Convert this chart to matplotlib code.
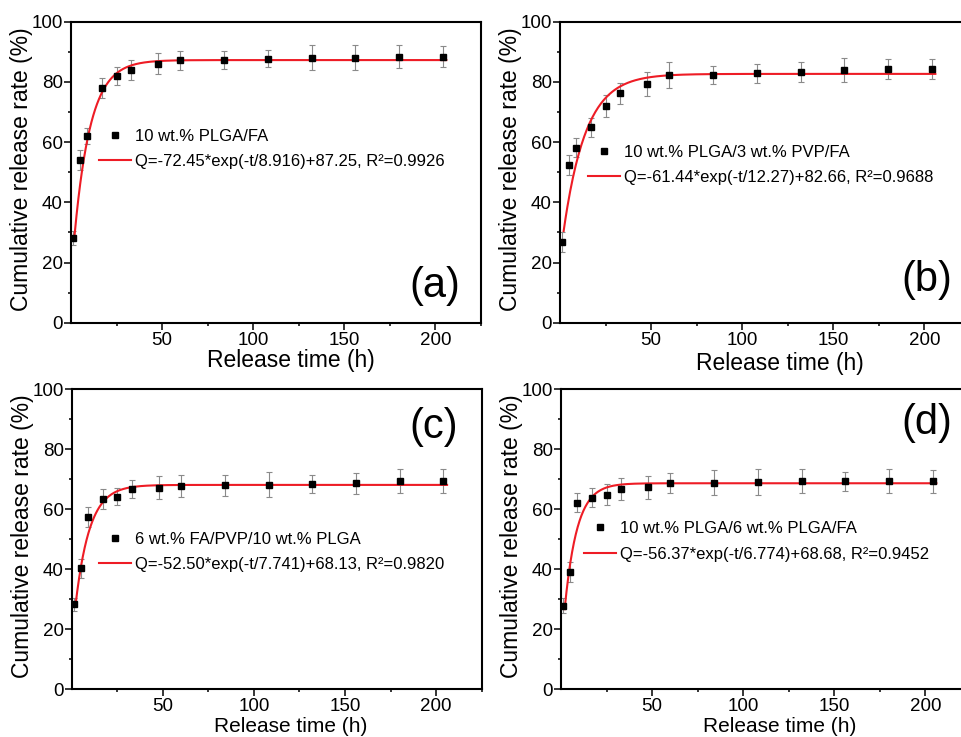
import numpy as np
import matplotlib
matplotlib.use("Agg")
import matplotlib.pyplot as plt
from matplotlib.lines import Line2D
from matplotlib.ticker import MultipleLocator, FixedLocator

plt.rcParams['font.family'] = ['Liberation Sans', 'DejaVu Sans']

# ---- data ----
time_h = [1, 5, 9, 17, 25, 33, 48, 60, 84, 108, 132, 156, 180, 204]

release_a = [28.0, 54.0, 62.0, 78.1, 82.0, 84.0, 86.0, 87.2, 87.3, 87.7, 88.0, 88.0, 88.3, 88.3]
err_a     = [2.3, 3.4, 2.7, 3.3, 3.0, 3.4, 3.5, 3.2, 3.1, 2.9, 4.1, 4.1, 3.8, 3.5]

release_b = [26.8, 52.4, 58.2, 64.9, 72.0, 76.2, 79.3, 82.3, 82.3, 82.9, 83.4, 83.9, 84.2, 84.4]
err_b     = [3.3, 3.4, 3.0, 3.2, 3.7, 3.4, 4.0, 4.2, 3.0, 3.2, 3.3, 3.9, 3.3, 3.3]

release_c = [28.3, 40.3, 57.5, 63.4, 64.2, 66.8, 67.2, 67.8, 68.0, 68.2, 68.4, 68.7, 69.3, 69.4]
err_c     = [2.2, 3.2, 3.3, 3.3, 2.8, 3.0, 3.8, 3.7, 3.5, 4.1, 3.0, 3.5, 4.0, 3.9]

release_d = [27.9, 39.0, 62.2, 63.9, 64.9, 66.8, 67.3, 68.8, 68.9, 69.1, 69.3, 69.3, 69.3, 69.3]
err_d     = [2.5, 3.3, 3.2, 3.2, 3.4, 3.7, 3.7, 3.2, 4.2, 4.2, 4.0, 3.2, 4.0, 3.8]

# fit parameters: Q = A*exp(-t/tau) + Q0
fit_A   = [-72.45, -61.44, -52.50, -56.37]
fit_tau = [8.916, 12.27, 7.741, 6.774]
fit_Q0  = [87.25, 82.66, 68.13, 68.68]
fit_txt = ["Q=-72.45*exp(-t/8.916)+87.25, R\u00b2=0.9926",
           "Q=-61.44*exp(-t/12.27)+82.66, R\u00b2=0.9688",
           "Q=-52.50*exp(-t/7.741)+68.13, R\u00b2=0.9820",
           "Q=-56.37*exp(-t/6.774)+68.68, R\u00b2=0.9452"]

sample_names = ["10 wt.% PLGA/FA",
                "10 wt.% PLGA/3 wt.% PVP/FA",
                "6 wt.% FA/PVP/10 wt.% PLGA",
                "10 wt.% PLGA/6 wt.% PLGA/FA"]
panel_tags = ["(a)", "(b)", "(c)", "(d)"]

releases = [release_a, release_b, release_c, release_d]
errors = [err_a, err_b, err_c, err_d]

# ---- layout ----
W, H = 961, 737
fig = plt.figure(figsize=(W / 100, H / 100), dpi=100)

ax_w = 410 / W
positions = [
    (71 / W, (H - 322.7) / H, ax_w, 301 / H),
    (560 / W, (H - 322.7) / H, ax_w, 301 / H),
    (71.7 / W, (H - 689.3) / H, ax_w, 300 / H),
    (561 / W, (H - 689.3) / H, ax_w, 300 / H),
]
legend_anchor = [(0.069, 0.644), (0.069, 0.591), (0.067, 0.526), (0.056, 0.560)]
tag_pos = [(0.888, 0.122), (0.894, 0.142), (0.882, 0.875), (0.892, 0.887)]
xlabel_pos = [(0.536, -0.087), (0.537, -0.096), (0.534, -0.093), (0.534, -0.093)]
xlabel_size = [16.5, 16.5, 15, 15]

RED = '#ee1c25'
GRAY = '#8a8a8a'

for i in range(4):
    ax = fig.add_axes(positions[i])
    t = np.asarray(time_h, dtype=float)
    y = np.asarray(releases[i])
    e = np.asarray(errors[i])

    ax.errorbar(t, y, yerr=e, fmt='none', ecolor=GRAY, elinewidth=0.8,
                capsize=2.0, capthick=0.8, zorder=2)
    tt = np.linspace(2, 206, 400)
    ax.plot(tt, fit_A[i] * np.exp(-tt / fit_tau[i]) + fit_Q0[i],
            color=RED, lw=1.5, zorder=3)
    ax.plot(t, y, 's', color='black', ms=5, zorder=4)

    ax.set_xlim(0, 225)
    ax.set_ylim(0, 100)
    ax.xaxis.set_major_locator(FixedLocator([50, 100, 150, 200]))
    ax.xaxis.set_minor_locator(FixedLocator([25, 75, 125, 175, 225]))
    ax.yaxis.set_major_locator(MultipleLocator(20))
    ax.yaxis.set_minor_locator(MultipleLocator(10))
    ax.tick_params(which='major', direction='out', length=5, width=1.1,
                   labelsize=13.5, color='black')
    ax.tick_params(which='minor', direction='out', length=2.5, width=1.1)
    ax.tick_params(axis='y', which='major', pad=0.8)
    ax.tick_params(axis='x', which='major', pad=1.5)
    for s in ax.spines.values():
        s.set_linewidth(1.5)
        s.set_color('black')

    ax.set_xlabel("Release time (h)", fontsize=xlabel_size[i])
    ax.xaxis.set_label_coords(*xlabel_pos[i])
    ax.set_ylabel("Cumulative release rate (%)", fontsize=16.5, va='center')
    ax.yaxis.set_label_coords(-0.12, 0.51)

    handles = [Line2D([], [], ls='none', marker='s', color='black', ms=4),
               Line2D([], [], color=RED, lw=1.5)]
    ax.legend(handles, [sample_names[i], fit_txt[i]], loc='upper left',
              bbox_to_anchor=legend_anchor[i], frameon=False, fontsize=12,
              borderpad=0, borderaxespad=0, handlelength=1.9,
              handletextpad=0.25, labelspacing=0.62)

    ax.text(tag_pos[i][0], tag_pos[i][1], panel_tags[i], transform=ax.transAxes,
            fontsize=30, ha='center', va='center')

fig.savefig("out.png", dpi=100)
